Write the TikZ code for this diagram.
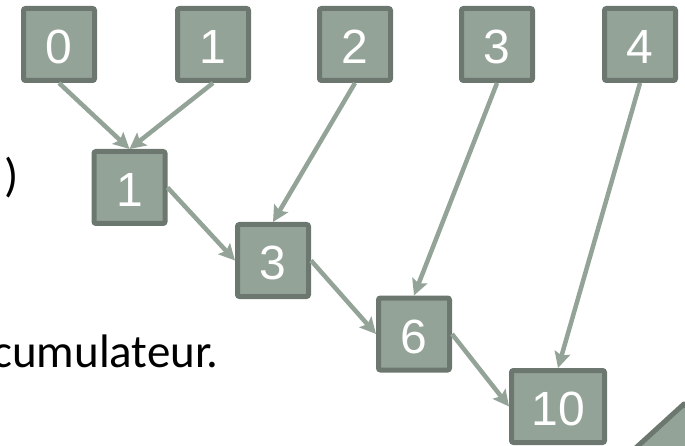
\documentclass[tikz,border=0pt]{standalone}
\usepackage{fontspec}
\setmainfont{Carlito}
\newfontfamily\digitfont{Liberation Sans}
\usetikzlibrary{arrows.meta}
\definecolor{boxfill}{HTML}{94A398}
\definecolor{boxline}{HTML}{6C786F}
\begin{document}
\begin{tikzpicture}[x=1pt,y=-1pt,
  valbox/.style={draw=boxline, fill=boxfill, line width=5pt, rounded corners=2pt,
    minimum width=71pt, minimum height=72pt, inner sep=0pt},
  numlabel/.style={text=white, inner sep=0pt, font=\digitfont\fontsize{48}{48}\selectfont},
  flow/.style={draw=boxfill, line width=4.5pt,
    -{Stealth[length=16pt,width=16pt,inset=3pt]}},
  bodytext/.style={font=\fontsize{47}{50}\selectfont, text=black, inner sep=0pt}]
\useasboundingbox (0,0) rectangle (685,446);
\clip (0,0) rectangle (685,446);
% partial shape at bottom right
\draw[draw=boxline, fill=boxfill, line width=5pt, line join=round] (628,455) -- (684,404) -- (740,460) -- cycle;
% top row
\node[valbox] (t0) at (59,44.5) {};
\node[valbox] (t1) at (213,44.5) {};
\node[valbox] (t2) at (355,44.5) {};
\node[valbox] (t3) at (497,44.5) {};
\node[valbox] (t4) at (640,44.5) {};
% accumulator chain
\node[valbox] (a1) at (129.5,187.5) {};
\node[valbox] (a3) at (273,260.5) {};
\node[valbox] (a6) at (414,334) {};
\node[valbox, minimum width=93pt] (a10) at (558,406.5) {};
% numbers
\foreach \n/\v in {t0/0,t1/1,t2/2,t3/3,t4/4,a1/1,a3/3,a6/6,a10/10}
  \node[numlabel] (l\n) at ([yshift=-2.5pt]\n.center) {\v};
% texts
\node[bodytext, anchor=base east] (paren) at (19,192) {)};
\node[bodytext, anchor=base east] (acc) at (219,367) {cumulateur.};
% connectors
\draw[flow] (t0.south) -- (a1.north);
\draw[flow] (t1.south) -- (a1.north);
\draw[flow] (t2.south) -- (a3.north);
\draw[flow] (t3.south) -- (a6.north);
\draw[flow] (t4.south) -- (a10.north);
\draw[flow] (a1.east) -- (a3.west);
\draw[flow] (a3.east) -- (a6.west);
\draw[flow] (a6.east) -- (a10.west);
\end{tikzpicture}
\end{document}
